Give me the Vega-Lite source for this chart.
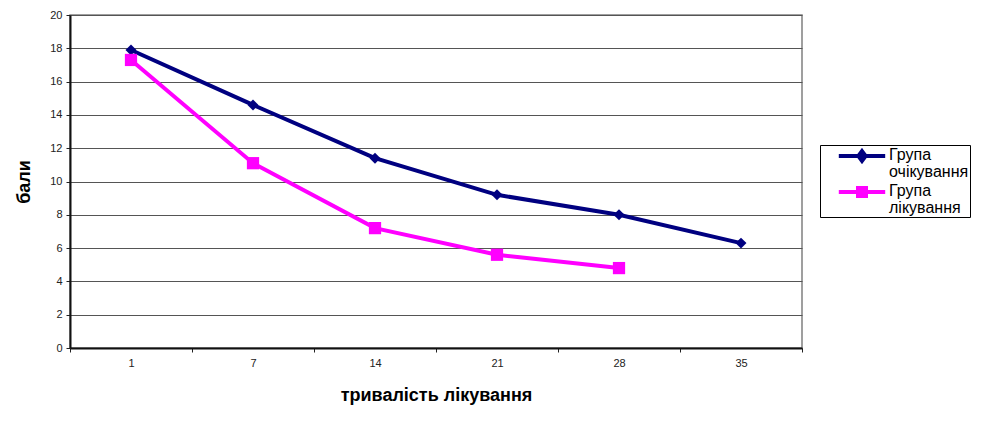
{
  "$schema": "https://vega.github.io/schema/vega-lite/v6.json",
  "autosize": "none",
  "width": 732,
  "height": 333,
  "padding": {"left": 70, "top": 15, "right": 186, "bottom": 85},
  "background": "white",
  "config": {
    "font": "Liberation Sans",
    "view": {"stroke": "#808080", "strokeWidth": 1.5}
  },
  "data": {
    "values": [
      {"day": "1", "score": 17.9, "group": "Група очікування"},
      {"day": "7", "score": 14.6, "group": "Група очікування"},
      {"day": "14", "score": 11.4, "group": "Група очікування"},
      {"day": "21", "score": 9.2, "group": "Група очікування"},
      {"day": "28", "score": 8.0, "group": "Група очікування"},
      {"day": "35", "score": 6.3, "group": "Група очікування"},
      {"day": "1", "score": 17.3, "group": "Група лікування"},
      {"day": "7", "score": 11.1, "group": "Група лікування"},
      {"day": "14", "score": 7.2, "group": "Група лікування"},
      {"day": "21", "score": 5.6, "group": "Група лікування"},
      {"day": "28", "score": 4.8, "group": "Група лікування"}
    ]
  },
  "encoding": {
    "x": {
      "field": "day",
      "type": "ordinal",
      "sort": ["1", "7", "14", "21", "28", "35"],
      "scale": {"type": "band", "paddingInner": 0, "paddingOuter": 0},
      "axis": {
        "title": "тривалість лікування",
        "titleFont": "Liberation Sans",
        "titleFontSize": 18,
        "titleFontWeight": "bold",
        "titleColor": "black",
        "titlePadding": 18,
        "labelAngle": 0,
        "labelFontSize": 11,
        "labelColor": "#222",
        "labelPadding": 5,
        "tickBand": "extent",
        "tickSize": 4,
        "tickColor": "#222",
        "domainColor": "#111",
        "domainWidth": 2,
        "grid": false
      }
    },
    "y": {
      "field": "score",
      "type": "quantitative",
      "scale": {"domain": [0, 20], "nice": false},
      "axis": {
        "title": "бали",
        "titleFont": "Liberation Sans",
        "titleFontSize": 18,
        "titleFontWeight": "bold",
        "titleColor": "black",
        "titlePadding": 16,
        "values": [0, 2, 4, 6, 8, 10, 12, 14, 16, 18, 20],
        "labelFontSize": 11,
        "labelColor": "#222",
        "labelPadding": 4,
        "tickSize": 4,
        "tickColor": "#222",
        "domainColor": "#111",
        "domainWidth": 2,
        "grid": true,
        "gridColor": "#555",
        "gridWidth": 1
      }
    },
    "color": {
      "field": "group",
      "type": "nominal",
      "sort": ["Група очікування", "Група лікування"],
      "scale": {"domain": ["Група очікування", "Група лікування"], "range": ["#000080", "#FF00FF"]},
      "legend": {
        "title": null,
        "orient": "none",
        "legendX": 750,
        "legendY": 130,
        "strokeColor": "black",
        "fillColor": "white",
        "padding": 1,
        "symbolOffset": 31,
        "labelFont": "Liberation Sans",
        "labelFontSize": 16,
        "labelColor": "black",
        "labelExpr": "split(datum.label, ' ')",
        "labelBaseline": "top",
        "labelOffset": 17,
        "labelLimit": 300,
        "symbolSize": 256,
        "rowPadding": 0,
        "encode": {
          "symbols": {
            "update": {
              "shape": {"signal": "datum.value == 'Група очікування' ? 'M-2.9,0H2.9M0,-0.6L0.45,0L0,0.6L-0.45,0Z' : 'M-2.9,0H2.9M-0.5,-0.5H0.5V0.5H-0.5Z'"},
              "fill": {"signal": "datum.value == 'Група очікування' ? '#000080' : '#FF00FF'"},
              "stroke": {"signal": "datum.value == 'Група очікування' ? '#000080' : '#FF00FF'"},
              "strokeWidth": {"value": 4},
              "strokeOpacity": {"value": 1},
              "fillOpacity": {"value": 1}
            }
          },
          "labels": {
            "update": {"dy": {"value": -9}, "lineHeight": {"value": 17}}
          }
        }
      }
    }
  },
  "layer": [
    {
      "mark": {"type": "line", "strokeWidth": 4}
    },
    {
      "transform": [{"filter": "datum.group == 'Група очікування'"}],
      "mark": {"type": "point", "filled": true, "opacity": 1, "shape": "diamond", "size": 120}
    },
    {
      "transform": [{"filter": "datum.group == 'Група лікування'"}],
      "mark": {"type": "point", "filled": true, "opacity": 1, "shape": "square", "size": 150}
    }
  ]
}
